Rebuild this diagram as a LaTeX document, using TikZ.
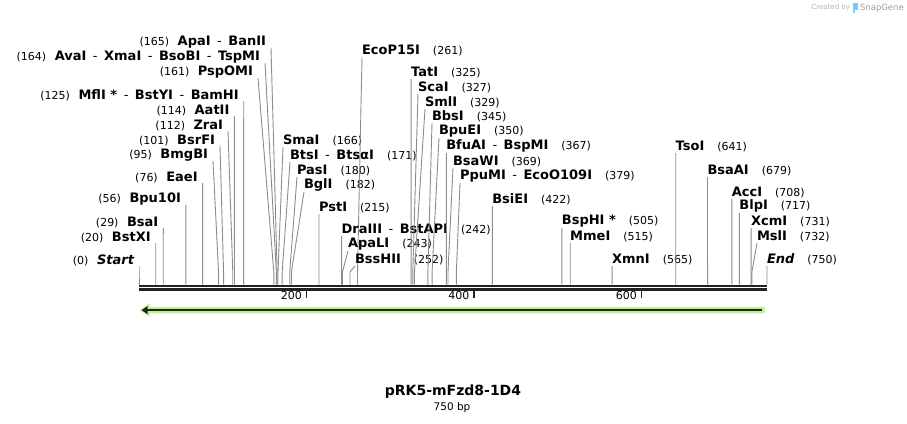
\documentclass[tikz,border=0pt]{standalone}
\usepackage{fontspec}
\setmainfont{DejaVu Sans}
\usetikzlibrary{arrows.meta}
\definecolor{agreen}{HTML}{BDF28A}
\definecolor{rulc}{HTML}{222222}
\definecolor{logoblue}{HTML}{7EC8F0}
\newcommand{\nm}[1]{{\fontsize{13}{15}\selectfont\bfseries #1}}
\newcommand{\nb}[1]{{\fontsize{11}{13}\selectfont #1}}
\newcommand{\dsh}{\textmd{\hspace{6.5pt}-\hspace{6.5pt}}}
% left label: id, y, line-top x, position, number, names
\newcommand{\Lsite}[6]{%
  \node[lab,anchor=east] (#1) at ({#3-5},#2) {\nb{(#5)}\hspace{8.5pt}\nm{#6}};
  \coordinate (#1-t) at (#3,{#2+6});
  \coordinate (#1-b) at ({139+#4*0.83733},272);
  \coordinate (#1-r) at ({139+#4*0.83733},284.5);
  \draw[conn] (#1-t) -- (#1-b) -- (#1-r);}
% right label: id, y, text-left x, position, number, names
\newcommand{\Rsite}[6]{%
  \node[lab,anchor=west] (#1) at (#3,#2) {\nm{#6}\hspace{13pt}\nb{(#5)}};
  \coordinate (#1-t) at (#3,{#2+7});
  \coordinate (#1-b) at ({139+#4*0.83733},272);
  \coordinate (#1-r) at ({139+#4*0.83733},284.5);
  \draw[conn] (#1-t) -- (#1-b) -- (#1-r);}
\begin{document}
\begin{tikzpicture}[x=1pt,y=-1pt,
  lab/.style={inner sep=0pt,outer sep=0pt},
  conn/.style={draw=black!45,line width=0.9pt}]
\useasboundingbox (0,0) rectangle (907,423);
% left-side sites
\Lsite{apaI}{42}{271}{165}{165}{ApaI\dsh BanII}
\Lsite{avaI}{57}{265}{164}{164}{AvaI\dsh XmaI\dsh BsoBI\dsh TspMI}
\Lsite{pspOMI}{72}{258}{161}{161}{PspOMI}
\Lsite{mflI}{95}{243.7}{125}{125}{MflI *\dsh BstYI\dsh BamHI}
\Lsite{aatII}{110}{234.4}{114}{114}{AatII}
\Lsite{zraI}{125}{228}{112}{112}{ZraI}
\Lsite{bsrFI}{140}{220}{101}{101}{BsrFI}
\Lsite{bmgBI}{155}{213}{95}{95}{BmgBI}
\Lsite{eaeI}{177}{202.6}{76}{76}{EaeI}
\Lsite{bpuI}{199}{185.9}{56}{56}{Bpu10I}
\Lsite{bsaI}{222}{163.3}{29}{29}{BsaI}
\Lsite{bstXI}{237}{155.7}{20}{20}{BstXI}
\Lsite{start}{260}{139}{0}{0}{\itshape Start}
% middle and right sites
\Rsite{smaI}{140}{283}{166}{166}{SmaI}
\Rsite{btsI}{155}{290}{171}{171}{BtsI\dsh BtsαI}
\Rsite{pasI}{170}{297}{180}{180}{PasI}
\Rsite{bglI}{185}{304}{182}{182}{BglI}
\Rsite{pstI}{207}{319}{215}{215}{PstI}
\Rsite{ecoP}{50}{362}{261}{261}{EcoP15I}
\Rsite{draIII}{229}{341.6}{242}{242}{DraIII\dsh BstAPI}
\Rsite{apaLI}{244}{348}{243}{243}{ApaLI}
\Rsite{bssHII}{259}{355}{252}{252}{BssHII}
\Rsite{tatI}{72}{411.1}{325}{325}{TatI}
\Rsite{scaI}{87}{418}{327}{327}{ScaI}
\Rsite{smlI}{102}{425}{329}{329}{SmlI}
\Rsite{bbsI}{116}{432}{345}{345}{BbsI}
\Rsite{bpuEI}{131}{439}{350}{350}{BpuEI}
\Rsite{bfuAI}{146}{446.3}{367}{367}{BfuAI\dsh BspMI}
\Rsite{bsaWI}{161}{453}{369}{369}{BsaWI}
\Rsite{ppuMI}{176}{460}{379}{379}{PpuMI\dsh EcoO109I}
\Rsite{bsiEI}{199}{492.3}{422}{422}{BsiEI}
\Rsite{bspHI}{221}{561.9}{505}{505}{BspHI *}
\Rsite{mmeI}{236}{570.2}{515}{515}{MmeI}
\Rsite{xmnI}{259}{612.1}{565}{565}{XmnI}
\Rsite{tsoI}{146}{675.7}{641}{641}{TsoI}
\Rsite{bsaAI}{170}{707.5}{679}{679}{BsaAI}
\Rsite{accI}{192}{731.8}{708}{708}{AccI}
\Rsite{blpI}{206}{739.4}{717}{717}{BlpI}
\Rsite{xcmI}{221}{751.1}{731}{731}{XcmI}
\Rsite{mslI}{236}{757}{732}{732}{MslI}
\Rsite{end}{259}{767}{750}{750}{\itshape End}
% ruler
\fill[rulc] (139,284.5) rectangle (767,287);
\fill[rulc] (139,288) rectangle (767,290.5);
\foreach \v in {200,400,600}{
  \draw[rulc,line width=1.8pt] ({139+\v*0.83733},290.5) -- ++(0,7.5);
  \node[lab,anchor=east] (t\v) at ({139+\v*0.83733-4.5},295.5) {\nb{\v}};
}
% feature arrow
\fill[agreen] (139.5,310) -- (149.5,303.3) -- (149.5,307) -- (764.5,307) -- (764.5,313.3) -- (149.5,313.3) -- (149.5,316.7) -- cycle;
\draw[draw=rulc,line width=2.6pt,-{Triangle[length=6pt,width=7.5pt]}] (762,310.15) -- (141.5,310.15);
% title
\node[lab] (title) at (453,392) {\fontsize{14}{16}\selectfont\bfseries pRK5-mFzd8-1D4};
\node[lab] (size) at (452,408) {\fontsize{10.5}{12}\selectfont 750 bp};
% watermark
\node[lab,anchor=east,text=black!30] (cb) at (850,8) {\fontsize{7}{8}\selectfont Created by};
\fill[logoblue] (853,3) rectangle (857.5,9.5);
\fill[logoblue] (853,9.5) rectangle (855,13);
\node[lab,anchor=west,text=black!38] (sg) at (860,8) {\fontsize{8.5}{9}\selectfont SnapGene};
\end{tikzpicture}
\end{document}
